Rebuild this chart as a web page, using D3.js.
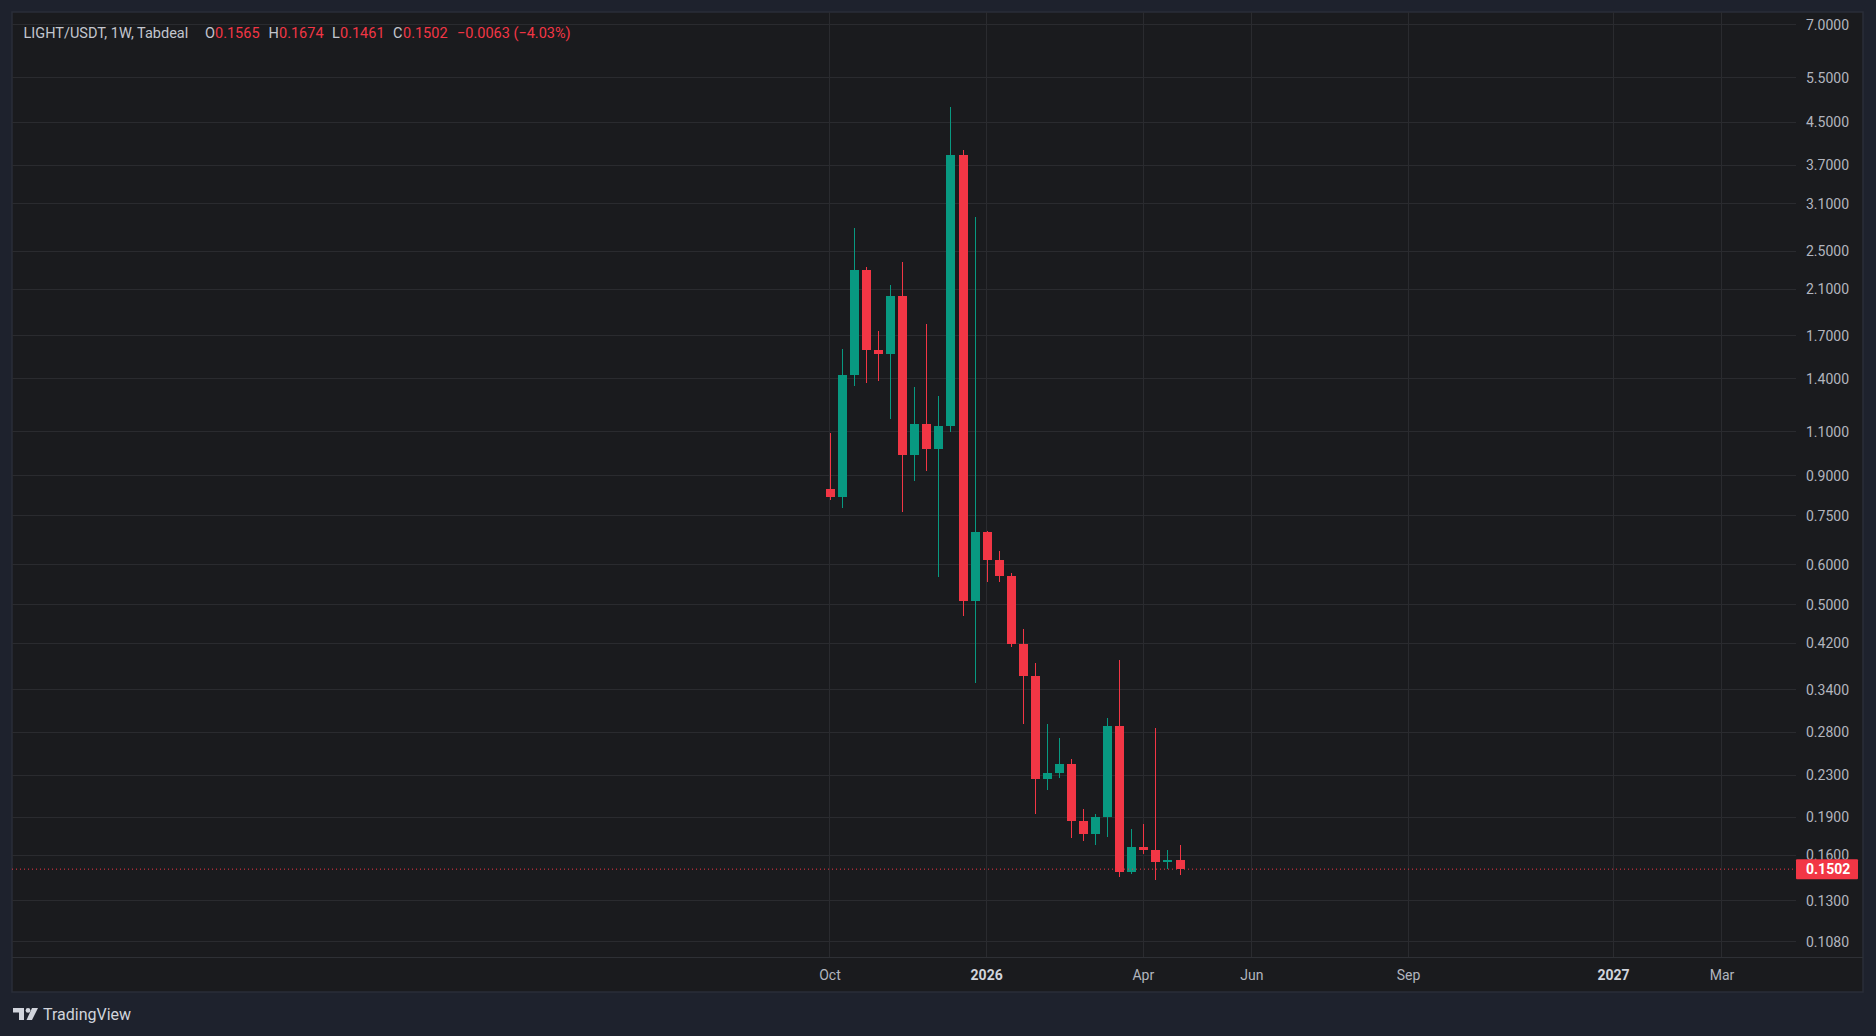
<!DOCTYPE html>
<html>
<head>
<meta charset="utf-8">
<script src="https://cdn.jsdelivr.net/npm/d3@7"></script>
<style>
  html, body { margin: 0; padding: 0; background: #1e222d; }
  svg { display: block; font-family: Roboto, "Trebuchet MS", sans-serif; }
</style>
</head>
<body>
<svg width="1876" height="1036"></svg>
<script>
// weekly candles, LIGHT/USDT
let weeks = ["2025-10-06","2025-10-13","2025-10-20","2025-10-27","2025-11-03","2025-11-10","2025-11-17","2025-11-24",
  "2025-12-01","2025-12-08","2025-12-15","2025-12-22","2025-12-29","2026-01-05","2026-01-12","2026-01-19",
  "2026-01-26","2026-02-02","2026-02-09","2026-02-16","2026-02-23","2026-03-02","2026-03-09","2026-03-16",
  "2026-03-23","2026-03-30","2026-04-06","2026-04-13","2026-04-20","2026-04-27"];
let opens  = [0.846,0.818,1.423,2.296,1.592,1.569,2.040,0.991,1.139,1.018,1.129,3.873,0.510,0.697,0.612,0.571,
  0.419,0.362,0.226,0.233,0.242,0.187,0.176,0.1906,0.288,0.148,0.166,0.164,0.155,0.1565];
let highs  = [1.094,1.604,2.777,2.329,1.739,2.142,2.382,1.348,1.797,1.293,4.824,3.962,2.921,0.699,0.638,0.578,
  0.448,0.384,0.291,0.273,0.248,0.1975,0.193,0.299,0.389,0.180,0.1845,0.286,0.1636,0.1674];
let lows   = [0.804,0.778,1.355,1.374,1.383,1.163,0.762,0.880,0.921,0.568,1.096,0.476,0.351,0.556,0.554,0.4135,
  0.291,0.193,0.215,0.227,0.173,0.171,0.168,0.174,0.145,0.147,0.161,0.143,0.150,0.1461];
let closes = [0.818,1.423,2.296,1.592,1.569,2.040,0.991,1.139,1.018,1.129,3.873,0.510,0.697,0.612,0.571,0.419,
  0.362,0.226,0.233,0.242,0.187,0.176,0.1906,0.288,0.148,0.166,0.164,0.155,0.1565,0.1502];

let priceTicks = [7, 5.5, 4.5, 3.7, 3.1, 2.5, 2.1, 1.7, 1.4, 1.1, 0.9, 0.75, 0.6, 0.5, 0.42, 0.34, 0.28, 0.23, 0.19, 0.16, 0.13, 0.108];
let timeTicks = ["2025-10-06","2026-01-05","2026-04-06","2026-06-08","2026-09-07","2027-01-04","2027-03-08"];
let timeLabels = ["Oct","2026","Apr","Jun","Sep","2027","Mar"];
let lastPrice = 0.1502;

let parse = d3.utcParse("%Y-%m-%d");
let candles = weeks.map(function(w, i) {
  return {date: parse(w), o: opens[i], h: highs[i], l: lows[i], c: closes[i]};
});

let svg = d3.select("svg"),
    panel = {left: 12, top: 12, right: 1863, bottom: 992},
    plot = {left: 12, top: 12, right: 1796, bottom: 957},
    up = "#089981", down = "#f23645",
    gridColor = "#2a2b2f", textColor = "#b2b5be";

let x = d3.scaleUtc()
  .domain([parse("2024-06-18"), parse("2027-04-20")])
  .range([plot.left, plot.right]);

let y = d3.scaleLog()
  .domain([0.1007, 7.425])
  .range([plot.bottom, plot.top]);

// panel
svg.append("rect")
  .attr("x", panel.left).attr("y", panel.top)
  .attr("width", panel.right - panel.left).attr("height", panel.bottom - panel.top)
  .attr("fill", "#1a1b1e").attr("stroke", "#2a2e39").attr("stroke-width", 1.5);

svg.append("clipPath").attr("id", "plotclip").append("rect")
  .attr("x", plot.left).attr("y", plot.top)
  .attr("width", plot.right - plot.left).attr("height", plot.bottom - plot.top);

// grid
let grid = svg.append("g").attr("shape-rendering", "crispEdges");
grid.selectAll(".hgrid")
  .data(priceTicks)
  .enter().append("line")
  .attr("x1", plot.left).attr("x2", plot.right)
  .attr("y1", function(d) { return y(d); }).attr("y2", function(d) { return y(d); })
  .attr("stroke", gridColor);
grid.selectAll(".vgrid")
  .data(timeTicks)
  .enter().append("line")
  .attr("x1", function(d) { return x(parse(d)); }).attr("x2", function(d) { return x(parse(d)); })
  .attr("y1", plot.top).attr("y2", plot.bottom)
  .attr("stroke", gridColor);

// time axis border
svg.append("line")
  .attr("x1", panel.left).attr("x2", panel.right)
  .attr("y1", plot.bottom + 0.5).attr("y2", plot.bottom + 0.5)
  .attr("stroke", "#2e3035");

// candles
let step = x(parse(weeks[1])) - x(parse(weeks[0])),
    bodyW = Math.round(step * 0.75);

let g = svg.append("g").attr("clip-path", "url(#plotclip)").attr("shape-rendering", "crispEdges");

g.selectAll(".wick")
  .data(candles)
  .enter().append("rect")
  .attr("x", function(d) { return Math.round(x(d.date)) - 0.5; })
  .attr("y", function(d) { return y(d.h); })
  .attr("width", 1)
  .attr("height", function(d) { return y(d.l) - y(d.h); })
  .attr("fill", function(d) { return d.c >= d.o ? up : down; });

g.selectAll(".body")
  .data(candles)
  .enter().append("rect")
  .attr("x", function(d) { return Math.round(x(d.date)) - bodyW / 2; })
  .attr("y", function(d) { return y(Math.max(d.o, d.c)); })
  .attr("width", bodyW)
  .attr("height", function(d) { return Math.max(1, Math.abs(y(d.o) - y(d.c))); })
  .attr("fill", function(d) { return d.c >= d.o ? up : down; });

// last price line
svg.append("line")
  .attr("x1", plot.left).attr("x2", plot.right)
  .attr("y1", y(lastPrice)).attr("y2", y(lastPrice))
  .attr("stroke", down).attr("stroke-width", 1)
  .attr("stroke-dasharray", "1,3");

// price axis labels
svg.append("g").selectAll("text")
  .data(priceTicks)
  .enter().append("text")
  .attr("x", 1806)
  .attr("y", function(d) { return y(d); })
  .attr("dy", "0.35em")
  .attr("font-size", 14)
  .attr("fill", textColor)
  .text(function(d) { return d3.format(".4f")(d); });

let tag = svg.append("g").attr("transform", "translate(1796," + y(lastPrice) + ")");
tag.append("rect").attr("x", 0).attr("y", -10).attr("width", 62).attr("height", 20).attr("rx", 1).attr("fill", down);
tag.append("text").attr("x", 10).attr("dy", "0.35em").attr("font-size", 14).attr("font-weight", "bold")
  .attr("fill", "#ffffff").text(d3.format(".4f")(lastPrice));

// time axis labels
svg.append("g").selectAll("text")
  .data(timeTicks)
  .enter().append("text")
  .attr("x", function(d) { return x(parse(d)); })
  .attr("y", 975)
  .attr("dy", "0.35em")
  .attr("text-anchor", "middle")
  .attr("font-size", 14)
  .attr("font-weight", function(d, i) { return /^\d+$/.test(timeLabels[i]) ? "bold" : "normal"; })
  .attr("fill", function(d, i) { return /^\d+$/.test(timeLabels[i]) ? "#d1d4dc" : textColor; })
  .text(function(d, i) { return timeLabels[i]; });

// legend
let last = candles[candles.length - 1],
    chg = last.c - last.o;
let legend = svg.append("g").attr("font-size", 14.5).attr("transform", "translate(0,33)");
let parts = [
  {x: 23.5, t: "LIGHT/USDT, 1W, Tabdeal", c: "#c3c6ce"},
  {x: 205, t: "O", c: "#c3c6ce"}, {x: 215, t: d3.format(".4f")(last.o), c: down},
  {x: 268.5, t: "H", c: "#c3c6ce"}, {x: 279, t: d3.format(".4f")(last.h), c: down},
  {x: 332, t: "L", c: "#c3c6ce"}, {x: 340, t: d3.format(".4f")(last.l), c: down},
  {x: 393, t: "C", c: "#c3c6ce"}, {x: 403, t: d3.format(".4f")(last.c), c: down},
  {x: 457, t: d3.format(".4f")(chg).replace("-", "\u2212") + " (" + d3.format(".2f")(chg / last.o * 100).replace("-", "\u2212") + "%)", c: down}
];
legend.selectAll("text")
  .data(parts)
  .enter().append("text")
  .attr("x", function(d) { return d.x; })
  .attr("dy", "0.35em")
  .attr("fill", function(d) { return d.c; })
  .text(function(d) { return d.t; });

// TradingView logo
let logo = svg.append("g").attr("transform", "translate(13,1008)").attr("fill", "#d1d4dc");
logo.append("path").attr("d", "M0,0 H11 V12 H6 V4.5 H0 Z");
logo.append("circle").attr("cx", 15).attr("cy", 2.4).attr("r", 2.4);
logo.append("path").attr("d", "M19,0 H25 L19,12 H13.5 Z");
svg.append("text")
  .attr("x", 43).attr("y", 1014).attr("dy", "0.35em")
  .attr("font-size", 16).attr("fill", "#d1d4dc")
  .text("TradingView");
</script>
</body>
</html>
